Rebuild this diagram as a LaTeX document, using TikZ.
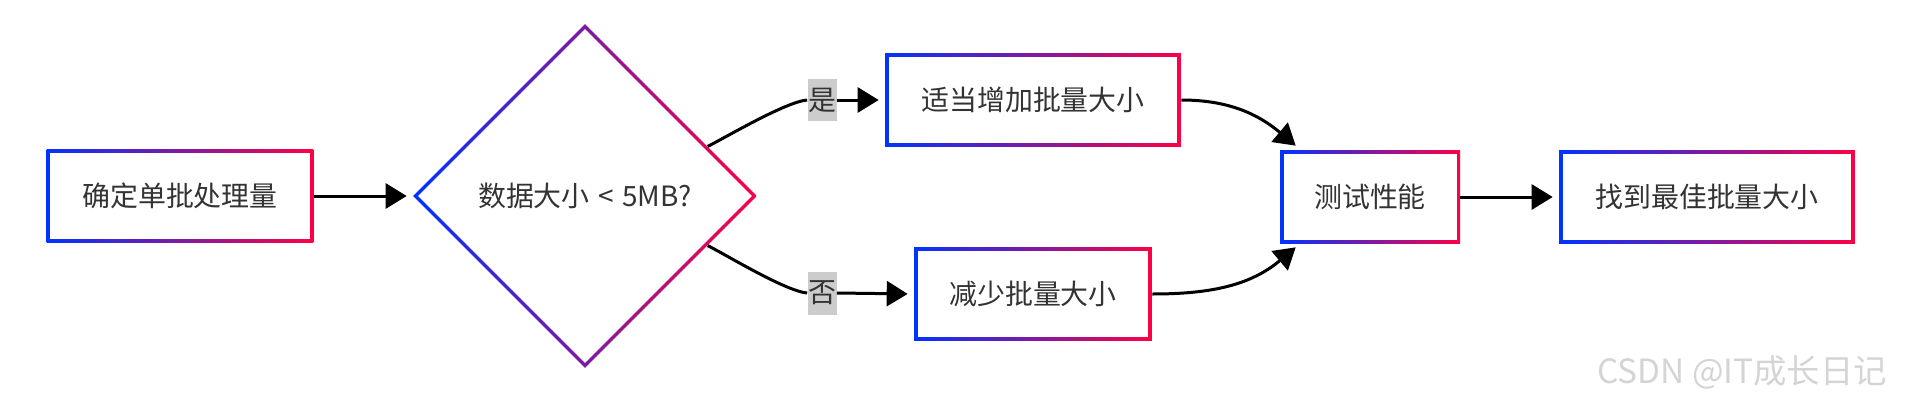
\documentclass[tikz,border=0pt]{standalone}
\usepackage{fontspec}
\setmainfont{Noto Sans CJK SC}
\usetikzlibrary{arrows.meta, shapes.geometric, calc}
\definecolor{gradblue}{RGB}{0,51,255}
\definecolor{gradred}{RGB}{255,0,68}
\definecolor{textgray}{RGB}{51,51,51}
\definecolor{labelgray}{RGB}{204,204,204}
\definecolor{markgray}{RGB}{212,212,212}

\begin{document}
\begin{tikzpicture}[x=0.02cm, y=0.02cm,
    every node/.style={font=\fontsize{15.9pt}{19pt}\selectfont, text=textgray},
    stepbox/.style={rectangle, minimum height=1.88cm, inner sep=0pt,
        path picture={
            \shade[left color=gradblue, right color=gradred]
                (path picture bounding box.south west) rectangle (path picture bounding box.north east);
            \fill[white] ([shift={(0.07cm,0.07cm)}]path picture bounding box.south west)
                rectangle ([shift={(-0.07cm,-0.07cm)}]path picture bounding box.north east);
        }},
    checkbox/.style={diamond, aspect=1, minimum width=6.88cm, minimum height=6.88cm, inner sep=0pt,
        path picture={
            \shade[left color=gradblue, right color=gradred]
                (path picture bounding box.south west) rectangle (path picture bounding box.north east);
            \fill[white] ([yshift=-0.1cm]path picture bounding box.north)
                -- ([xshift=-0.1cm]path picture bounding box.east)
                -- ([yshift=0.1cm]path picture bounding box.south)
                -- ([xshift=0.1cm]path picture bounding box.west) -- cycle;
        }},
    answer/.style={fill=labelgray, inner sep=0pt, minimum height=0.86cm, minimum width=0.58cm},
    link/.style={line width=0.06cm},
    flow/.style={link, -{Triangle[length=0.42cm, width=0.5cm]}, shorten >=0.12cm}]
    \useasboundingbox (0,0) rectangle (1906,400);

    % Steps
    \node[stepbox, minimum width=5.34cm] (fix) at (180,204) {确定单批处理量};
    \node[checkbox] (size) at (585,204) {数据大小\hspace{0.3em}<\hspace{0.3em}5MB?};
    \node[stepbox, minimum width=5.92cm] (grow) at (1033,300) {适当增加批量大小};
    \node[stepbox, minimum width=4.76cm] (shrink) at (1033,106) {减少批量大小};
    \node[stepbox, minimum width=3.6cm] (test) at (1370,203) {测试性能};
    \node[stepbox, minimum width=5.92cm] (best) at (1707,203) {找到最佳批量大小};

    % Answers
    \node[answer] (yes) at (822,300) {是};
    \node[answer] (no) at (822,107) {否};

    % Connectors
    \draw[flow] (fix) -- (size);
    \draw[link] (size.22) to[out=27, in=185, looseness=0.5] (yes.west);
    \draw[flow] (yes.east) -- (grow.west);
    \draw[link] (size.-22) to[out=-27, in=175, looseness=0.5] (no.west);
    \draw[flow] (no.east) -- (shrink.west);
    \draw[flow, shorten >=0pt] (grow.east) to[out=0, in=140] ([shift={(16,4)}]test.north west);
    \draw[flow, shorten >=0pt] (shrink.east) to[out=0, in=-140] ([shift={(16,-3)}]test.south west);
    \draw[flow] (test) -- (best);

    % Watermark
    \node[text=markgray, font=\fontsize{19pt}{22pt}\selectfont] (mark) at (1742,28) {CSDN @IT成长日记};
\end{tikzpicture}
\end{document}
